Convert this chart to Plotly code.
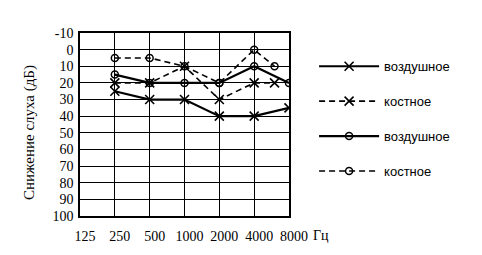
import plotly.graph_objects as go

freqs_tick = [125, 250, 500, 1000, 2000, 4000, 8000]
tick_labels = ["125", "250", "500", "1000", "2000", "4000", "8000"]

air_x_freq = [250, 500, 1000, 2000, 4000, 8000]
air_x_db = [25, 30, 30, 40, 40, 35]

bone_x_freq = [250, 500, 1000, 2000, 4000, 6000]
bone_x_db = [20, 20, 10, 30, 20, 20]

air_o_freq = [250, 500, 1000, 2000, 4000, 8000]
air_o_db = [15, 20, 20, 20, 10, 20]

bone_o_freq = [250, 500, 1000, 2000, 4000, 6000]
bone_o_db = [5, 5, 10, 20, 0, 10]

y_ticks = list(range(-10, 101, 10))
y_labels = [str(v) for v in y_ticks]

serif = "Liberation Serif"
sans = "Liberation Sans"

fig = go.Figure()
xm = dict(symbol="x-thin-open", size=9, color="black", line=dict(width=1.6, color="black"))
om = dict(symbol="circle-open", size=7, color="black", line=dict(width=1.5, color="black"))

fig.add_trace(go.Scatter(x=air_x_freq, y=air_x_db, mode="lines+markers", name="воздушное",
                         line=dict(color="black", width=2.2), marker=xm, legendgroup="a"))
fig.add_trace(go.Scatter(x=bone_x_freq, y=bone_x_db, mode="lines+markers", name="костное",
                         line=dict(color="black", width=1.6, dash="6px,4px"), marker=xm, legendgroup="b"))
fig.add_trace(go.Scatter(x=air_o_freq, y=air_o_db, mode="lines+markers", name="воздушное",
                         line=dict(color="black", width=2.2), marker=om, legendgroup="c"))
fig.add_trace(go.Scatter(x=bone_o_freq, y=bone_o_db, mode="lines+markers", name="костное",
                         line=dict(color="black", width=1.6, dash="6px,4px"), marker=om, legendgroup="d"))

fig.update_layout(
    width=482, height=255,
    margin=dict(l=80, r=193, t=33, b=39),
    paper_bgcolor="white", plot_bgcolor="white",
    showlegend=True,
    legend=dict(x=1.12, y=0.9, xanchor="left", yanchor="top", itemwidth=60,
                font=dict(family=sans, size=13, color="black"),
                tracegroupgap=15, bgcolor="rgba(0,0,0,0)"),
    annotations=[
        dict(text="Гц", x=1.105, y=-0.105, xref="paper", yref="paper",
             xanchor="left", yanchor="middle", showarrow=False,
             font=dict(family=serif, size=14, color="black")),
        dict(text="Снижение слуха (дБ)", x=-0.239, y=0.454, xref="paper", yref="paper",
             xanchor="center", yanchor="middle", textangle=-90, showarrow=False,
             font=dict(family=serif, size=15, color="black")),
    ],
)
fig.update_xaxes(type="log", range=[2.0969, 3.9031], tickvals=freqs_tick, ticktext=tick_labels,
                 showgrid=True, gridcolor="black", gridwidth=1,
                 showline=True, linecolor="black", linewidth=1.5, mirror=True,
                 ticks="", ticklabelshift=5, ticklabelstandoff=6,
                 tickfont=dict(family=serif, size=14, color="black"), zeroline=False)
fig.update_yaxes(range=[100, -10], tickvals=y_ticks, ticktext=y_labels,
                 showgrid=True, gridcolor="black", gridwidth=1,
                 showline=True, linecolor="black", linewidth=1.5, mirror=True,
                 ticks="", ticklabelstandoff=2,
                 tickfont=dict(family=serif, size=14, color="black"), zeroline=False)

fig.write_html("out.html")
